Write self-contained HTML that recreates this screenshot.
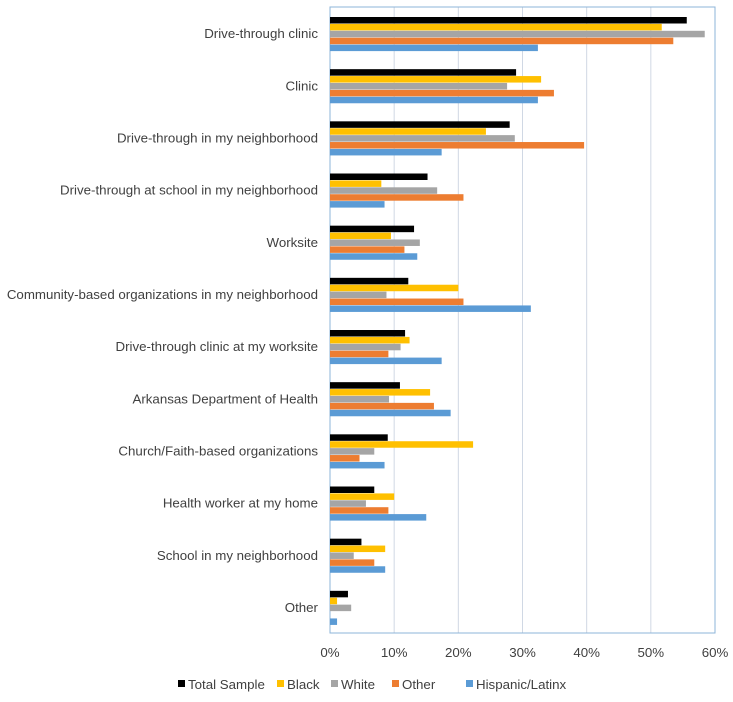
<!DOCTYPE html>
<html><head><meta charset="utf-8"><style>
body{margin:0;background:#fff;font-family:"Liberation Sans",sans-serif;}
svg text{font-family:"Liberation Sans",sans-serif;fill:#404040;font-size:13.3px;}
</style></head><body>
<svg id="c" width="733" height="697" xmlns="http://www.w3.org/2000/svg"></svg>
<script>
const categories=["Drive-through clinic","Clinic","Drive-through in my neighborhood","Drive-through at school in my neighborhood","Worksite","Community-based organizations in my neighborhood","Drive-through clinic at my worksite","Arkansas Department of Health","Church/Faith-based organizations","Health worker at my home","School in my neighborhood","Other"];
const seriesNames=["Total Sample","Black","White","Other","Hispanic/Latinx"];
const seriesColors=["#000000","#ffc000","#a5a5a5","#ed7d31","#5b9bd5"];
const totalSample=[55.6,29,28,15.2,13.1,12.2,11.7,10.9,9,6.9,4.9,2.8];
const black=[51.7,32.9,24.3,8,9.5,20,12.4,15.6,22.3,10,8.6,1.1];
const white=[58.4,27.6,28.8,16.7,14,8.8,11,9.2,6.9,5.6,3.7,3.3];
const other=[53.5,34.9,39.6,20.8,11.6,20.8,9.1,16.2,4.6,9.1,6.9,0];
const hispanic=[32.4,32.4,17.4,8.5,13.6,31.3,17.4,18.8,8.5,15,8.6,1.1];
const ticks=[0,10,20,30,40,50,60];
const series=[totalSample,black,white,other,hispanic];
const svg=document.getElementById('c');const NS="http://www.w3.org/2000/svg";
const L=330,R=715,T=7,B=633,MAX=60;
const x=v=>L+v/MAX*(R-L);
const band=(B-T)/categories.length;
function mk(t,a,p){const e=document.createElementNS(NS,t);for(const k in a)e.setAttribute(k,a[k]);(p||svg).appendChild(e);return e;}
ticks.forEach(t=>{const g=mk('line',{x1:x(t),x2:x(t),y1:T,y2:B,stroke:'#d0d8e4','stroke-width':1});


const tx=mk('text',{x:x(t),y:657,'text-anchor':'middle'});tx.textContent=t+'%';

});
const fr=mk('rect',{x:L,y:T,width:R-L,height:B-T,fill:'none',stroke:'#8eb4d8','stroke-width':1});


const bh=6.9;
categories.forEach((c,i)=>{const y0=T+i*band+10;
const lb=mk('text',{x:318,y:T+i*band+band/2+5,'text-anchor':'end'});lb.textContent=c;


series.forEach((s,j)=>{const r=mk('rect',{x:L,y:y0+j*bh,width:Math.max(0,x(s[i])-L),height:bh-0.4,fill:seriesColors[j]});

});});
const lx=[178,277,331,392,466];
seriesNames.forEach((n,j)=>{const r=mk('rect',{x:lx[j],y:680,width:7,height:7,fill:seriesColors[j]});


const t=mk('text',{x:lx[j]+10,y:689});t.textContent=n;

});
</script>
</body></html>
